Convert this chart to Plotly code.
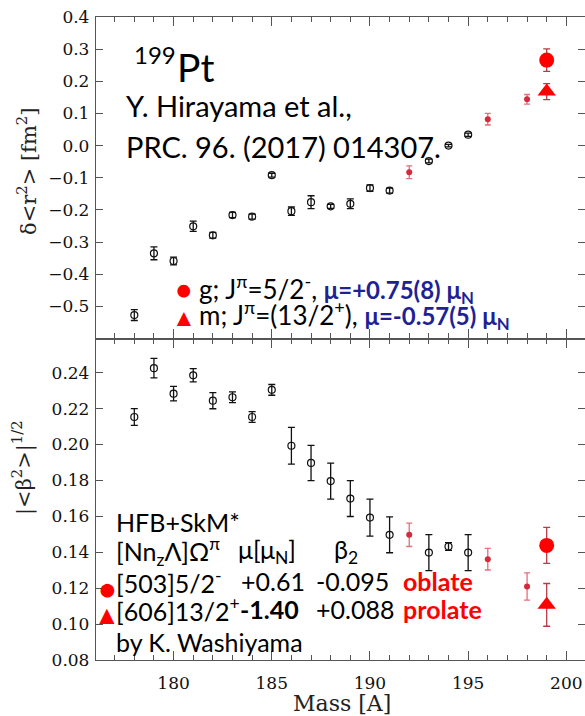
import plotly.graph_objects as go
from plotly.subplots import make_subplots

# Pt isotopes: open symbols
mass_open = [178, 179, 180, 181, 182, 183, 184, 185, 186, 187, 188, 189, 190, 191, 193, 194, 195]
dr2_open = [-0.527, -0.335, -0.359, -0.251, -0.279, -0.216, -0.221, -0.092, -0.204, -0.176,
            -0.189, -0.181, -0.132, -0.140, -0.048, 0.000, 0.034]
dr2_open_err = [0.017, 0.020, 0.012, 0.016, 0.009, 0.008, 0.008, 0.006, 0.013, 0.020,
                0.006, 0.015, 0.010, 0.008, 0.006, 0.004, 0.005]
beta_open = [0.2153, 0.2425, 0.2283, 0.2385, 0.2244, 0.2263, 0.2153, 0.2304, 0.1993, 0.1897,
             0.1796, 0.1699, 0.1593, 0.1497, 0.1398, 0.1432, 0.1398]
beta_open_err = [0.0047, 0.0054, 0.0040, 0.0037, 0.0045, 0.0030, 0.0030, 0.0030, 0.0102, 0.0098,
                 0.0100, 0.0100, 0.0103, 0.0100, 0.0100, 0.0022, 0.0100]

# Pt isotopes: filled red symbols
mass_red = [192, 196, 198]
dr2_red = [-0.083, 0.082, 0.144]
dr2_red_err = [0.020, 0.018, 0.015]
beta_red = [0.1497, 0.1361, 0.1209]
beta_red_err = [0.0065, 0.0060, 0.0076]

# 199Pt ground (g) and isomeric (m) states
mass_199 = [199]
dr2_g = [0.266]
dr2_g_err = [0.035]
dr2_m = [0.168]
dr2_m_err = [0.025]
beta_g = [0.1438]
beta_g_err = [0.0100]
beta_m = [0.1107]
beta_m_err = [0.0119]

top_yticks = [0.4, 0.3, 0.2, 0.1, 0.0, -0.1, -0.2, -0.3, -0.4, -0.5]
bot_yticks = [0.24, 0.22, 0.20, 0.18, 0.16, 0.14, 0.12, 0.10, 0.08]
x_ticks = [180, 185, 190, 195, 200]

W, H = 585, 716
ML, MR, MT, MB = 96, 0, 17, 56
PW, PH = W - ML - MR, H - MT - MB

BLACK = "#111111"
RED_SMALL = "#d42a3c"
RED_SMALL_ERR = "#e0707a"
RED_BIG = "#ff0000"
RED_BIG_ERR = "#b83a48"
AXIS = "#555555"
BLUE = "#1f1f96"

fig = make_subplots(rows=2, cols=1, vertical_spacing=0)


def add_panel(row, y_open, e_open, y_red, e_red, y_g, e_g, y_m, e_m):
    fig.add_trace(go.Scatter(
        x=mass_open, y=y_open, mode="markers",
        marker=dict(symbol="circle-open", size=7, color=BLACK, line=dict(width=1.2, color=BLACK)),
        error_y=dict(type="data", array=e_open, color=BLACK, thickness=1.3, width=3.5),
        showlegend=False), row=row, col=1)
    fig.add_trace(go.Scatter(
        x=mass_red, y=y_red, mode="markers",
        marker=dict(symbol="circle", size=6, color=RED_SMALL),
        error_y=dict(type="data", array=e_red, color=RED_SMALL_ERR, thickness=1.3, width=3),
        showlegend=False), row=row, col=1)
    fig.add_trace(go.Scatter(
        x=mass_199, y=y_g, mode="markers",
        marker=dict(symbol="circle", size=15, color=RED_BIG),
        error_y=dict(type="data", array=e_g, color=RED_BIG_ERR, thickness=1.3, width=3.5),
        showlegend=False), row=row, col=1)
    fig.add_trace(go.Scatter(
        x=mass_199, y=y_m, mode="markers",
        marker=dict(symbol="triangle-up", size=16, color=RED_BIG),
        error_y=dict(type="data", array=e_m, color=RED_BIG_ERR, thickness=1.3, width=3.5),
        showlegend=False), row=row, col=1)


add_panel(1, dr2_open, dr2_open_err, dr2_red, dr2_red_err, dr2_g, dr2_g_err, dr2_m, dr2_m_err)
add_panel(2, beta_open, beta_open_err, beta_red, beta_red_err, beta_g, beta_g_err, beta_m, beta_m_err)

tick_font = dict(family="DejaVu Serif", size=17, color="#111111")
common_x = dict(
    range=[176.05, 200.95], showline=True, linecolor=AXIS, linewidth=1.3, mirror="ticks",
    ticks="inside", tickvals=x_ticks, ticklen=9, tickwidth=1.2, tickcolor=AXIS,
    minor=dict(dtick=1, tick0=176, ticks="inside", ticklen=5, tickwidth=1.1, tickcolor=AXIS),
    showgrid=False, zeroline=False, tickfont=tick_font,
)
common_y = dict(
    showline=True, linecolor=AXIS, linewidth=1.3, mirror="ticks", ticks="inside",
    ticklen=7, tickwidth=1.2, tickcolor=AXIS, showgrid=False, zeroline=False,
    tickfont=tick_font, ticklabelstandoff=2,
)

fig.update_layout(
    xaxis=dict(common_x, domain=[0, 1], showticklabels=False),
    xaxis2=dict(common_x, domain=[0, 1], showticklabels=True, ticklabelstandoff=7),
    yaxis=dict(common_y, domain=[0.5, 1], range=[-0.6, 0.4], tickvals=top_yticks, tickformat=".1f"),
    yaxis2=dict(common_y, domain=[0, 0.5], range=[0.08, 0.259], tickvals=bot_yticks, tickformat=".2f"),
    width=W, height=H,
    margin=dict(l=ML, r=MR, t=MT, b=MB),
    paper_bgcolor="white", plot_bgcolor="white",
    showlegend=False,
)


def px(x):
    return (x - ML) / PW


def py(y):
    return (H - MB - y) / PH


TXT = "Lato"
notes = []


def note(text, x, y, size=25, color="black", family=TXT, xanchor="left", angle=0):
    notes.append(dict(
        text=text, x=px(x), y=py(y), xref="paper", yref="paper", showarrow=False,
        xanchor=xanchor, yanchor="middle", textangle=angle,
        font=dict(family=family, size=size, color=color)))


# isotope label and reference
note("199", 132, 55, size=24)
note("Pt", 175, 67, size=39)
note("Y. Hirayama et al.,", 124, 105, size=29)
note("PRC. 96. (2017) 014307.", 124, 146, size=29)

# state key in the upper panel
moment = "<span style='color:%s;font-size:24px'><b>%s</b></span>"
note("●", 184, 289, size=26, color=RED_BIG, xanchor="center")
note("▲", 184, 316, size=24, color=RED_BIG, xanchor="center")
note("g; J<sup>π</sup>=5/2<sup>-</sup>, " + moment % (BLUE, "μ=+0.75(8) μ<sub>N</sub>"),
     197, 289, size=26)
note("m; J<sup>π</sup>=(13/2<sup>+</sup>), " + moment % (BLUE, "μ=-0.57(5) μ<sub>N</sub>"),
     197, 315, size=26)

# HFB calculation table in the lower panel
note("HFB+SkM*", 114, 522)
note("[Nn<sub>z</sub>Λ]Ω<sup>π</sup>", 114, 551)
note("μ[μ<sub>N</sub>]", 236, 551)
note("β<sub>2</sub>", 332, 551)
note("[503]5/2<sup>-</sup>", 114, 581)
note("+0.61", 239, 581)
note("-0.095", 314, 581)
note("<b>oblate</b>", 401, 581, color=RED_BIG)
note("[606]13/2<sup>+</sup>", 114, 609)
note("<b>-1.40</b>", 238, 609)
note("+0.088", 314, 609)
note("<b>prolate</b>", 401, 609, color=RED_BIG)
note("by K. Washiyama", 114, 642)
note("●", 107, 588, size=28, color=RED_BIG, xanchor="center")
note("▲", 107, 614, size=26, color=RED_BIG, xanchor="center")

# axis titles
note("δ&lt;r<sup>2</sup>&gt; [fm<sup>2</sup>]", 27, 172, size=21, color="#222222",
     family="DejaVu Serif", xanchor="center", angle=-90)
note("|&lt;β<sup>2</sup>&gt;|<sup>1/2</sup>", 22, 468, size=21, color="#222222",
     family="DejaVu Serif", xanchor="center", angle=-90)
note("Mass [A]", 342, 703, size=22, color="#222222", family="DejaVu Serif", xanchor="center")

fig.update_layout(annotations=notes)

fig.write_html("out.html")
